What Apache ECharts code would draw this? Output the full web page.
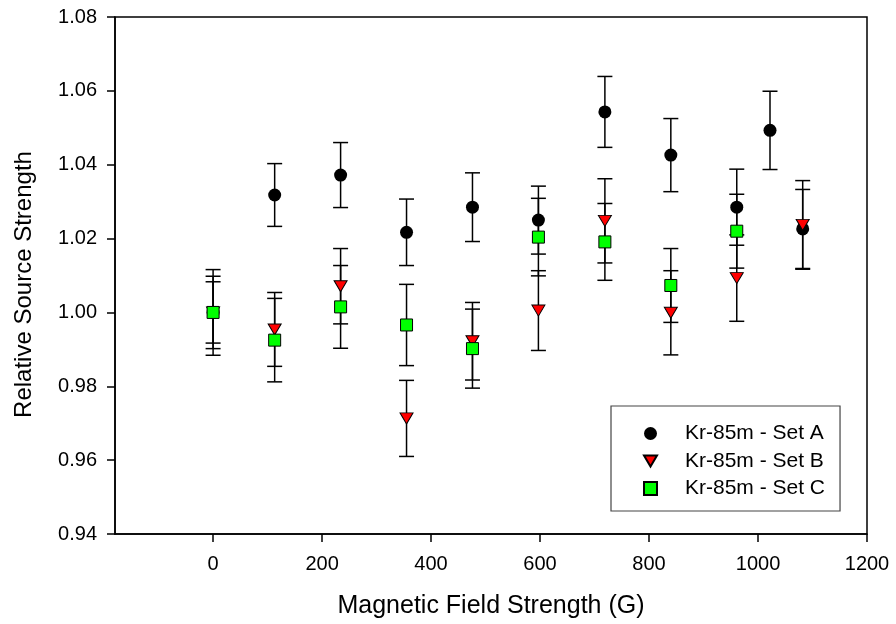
<!DOCTYPE html>
<html>
<head>
<meta charset="utf-8">
<script src="https://cdn.jsdelivr.net/npm/echarts@6/dist/echarts.min.js"></script>
<style>
html,body{margin:0;padding:0;background:#fff;}
#chart{width:896px;height:624px;}
</style>
</head>
<body>
<div id="chart"></div>
<script>
// ---- data ----
const xA = [0, 113, 234, 355, 476, 597, 719, 840, 961, 1022, 1082];
const yA = [1.000, 1.0318, 1.0372, 1.0217, 1.0285, 1.0250, 1.0543, 1.0426, 1.0285, 1.0493, 1.0226];
const eA = [0.0083, 0.0085, 0.0088, 0.0090, 0.0093, 0.0092, 0.0096, 0.0099, 0.0103, 0.0106, 0.0107];

const xB = [0, 113, 234, 355, 476, 597, 719, 840, 961, 1082];
const yB = [1.000, 0.9954, 1.0071, 0.9713, 0.9922, 1.0005, 1.0248, 0.9999, 1.0093, 1.0237];
const eB = [0.0116, 0.0100, 0.0102, 0.0103, 0.0105, 0.0108, 0.0114, 0.0114, 0.0117, 0.0120];

const xC = [0, 113, 234, 355, 476, 597, 719, 840, 961];
const yC = [1.000, 0.9925, 1.0015, 0.9966, 0.9902, 1.0204, 1.0191, 1.0073, 1.0220];
const eC = [0.0098, 0.0113, 0.0112, 0.0110, 0.0107, 0.0105, 0.0104, 0.0100, 0.0100];

const seriesNames = ['Kr-85m - Set A', 'Kr-85m - Set B', 'Kr-85m - Set C'];
const xTicks = [0, 200, 400, 600, 800, 1000, 1200];
const xTitle = 'Magnetic Field Strength (G)';
const yTitle = 'Relative Source Strength';

// ---- build ----
const FONT = 'Arial, "Liberation Sans", sans-serif';
function pts(xs, ys) { return xs.map((x, i) => [x, ys[i]]); }
function errs(xs, ys, es) { return xs.map((x, i) => [x, ys[i], es[i]]); }

function errorSeries(data) {
  return {
    type: 'custom',
    data: data,
    encode: { x: 0, y: 1 },
    clip: false,
    silent: true,
    renderItem: function (params, api) {
      const x = api.value(0), y = api.value(1), e = api.value(2);
      const t = api.coord([x, y + e]);
      const b = api.coord([x, y - e]);
      const h = 7.5;
      const st = { stroke: '#000', lineWidth: 1.5, fill: null };
      return {
        type: 'group',
        children: [
          { type: 'line', shape: { x1: t[0], y1: t[1], x2: b[0], y2: b[1] }, style: st },
          { type: 'line', shape: { x1: t[0] - h, y1: t[1], x2: t[0] + h, y2: t[1] }, style: st },
          { type: 'line', shape: { x1: b[0] - h, y1: b[1], x2: b[0] + h, y2: b[1] }, style: st }
        ]
      };
    }
  };
}

const triDown = 'path://M0,0L2,0L1,1.7Z';

const option = {
  animation: false,
  backgroundColor: '#fff',
  textStyle: { fontFamily: FONT },
  grid: {
    left: 115, right: 29, top: 17, bottom: 89,
    show: true, borderColor: '#000', borderWidth: 1.5, backgroundColor: 'transparent'
  },
  xAxis: {
    type: 'value',
    min: -180, max: 1200,
    name: xTitle,
    nameLocation: 'middle',
    nameGap: 60,
    nameTextStyle: { fontFamily: FONT, fontSize: 25, color: '#000' },
    axisLine: { show: true, onZero: false, lineStyle: { color: '#000', width: 1.5 } },
    axisTick: { show: true, inside: false, length: 8, customValues: xTicks, lineStyle: { color: '#000', width: 1.5 } },
    axisLabel: { customValues: xTicks, margin: 20, fontFamily: FONT, fontSize: 20, color: '#000', formatter: v => String(v) },
    splitLine: { show: false }
  },
  yAxis: {
    type: 'value',
    min: 0.94, max: 1.08, interval: 0.02,
    name: yTitle,
    nameLocation: 'middle',
    nameGap: 79,
    nameTextStyle: { fontFamily: FONT, fontSize: 24, color: '#000', padding: [0, 18, 0, 0] },
    axisLine: { show: true, onZero: false, lineStyle: { color: '#000', width: 1.5 } },
    axisTick: { show: true, inside: false, length: 8, lineStyle: { color: '#000', width: 1.5 } },
    axisLabel: { margin: 18, fontFamily: FONT, fontSize: 20, color: '#000', formatter: v => v.toFixed(2) },
    splitLine: { show: false }
  },
  legend: {
    orient: 'vertical',
    left: 611, top: 406,
    padding: [17, 15, 12, 32],
    itemWidth: 13, itemHeight: 13, itemGap: 6.5,
    borderColor: '#444', borderWidth: 1.2,
    backgroundColor: '#fff',
    data: seriesNames,
    textStyle: { fontFamily: FONT, fontSize: 21, color: '#000', lineHeight: 20, padding: [0, 0, 0, 23] }
  },
  series: [
    errorSeries(errs(xA, yA, eA)),
    {
      name: seriesNames[0], type: 'scatter', data: pts(xA, yA),
      symbol: 'circle', symbolSize: 13,
      itemStyle: { color: '#000', opacity: 1 }
    },
    errorSeries(errs(xB, yB, eB)),
    {
      name: seriesNames[1], type: 'scatter', data: pts(xB, yB),
      symbol: triDown, symbolSize: [13, 11],
      itemStyle: { color: '#ff0000', borderColor: '#000', borderWidth: 1, opacity: 1 }
    },
    errorSeries(errs(xC, yC, eC)),
    {
      name: seriesNames[2], type: 'scatter', data: pts(xC, yC),
      symbol: 'rect', symbolSize: 12,
      itemStyle: { color: '#00ff00', borderColor: '#000', borderWidth: 1, opacity: 1 }
    }
  ]
};

const chart = echarts.init(document.getElementById('chart'), null, { renderer: 'canvas' });
chart.setOption(option);
</script>
</body>
</html>
